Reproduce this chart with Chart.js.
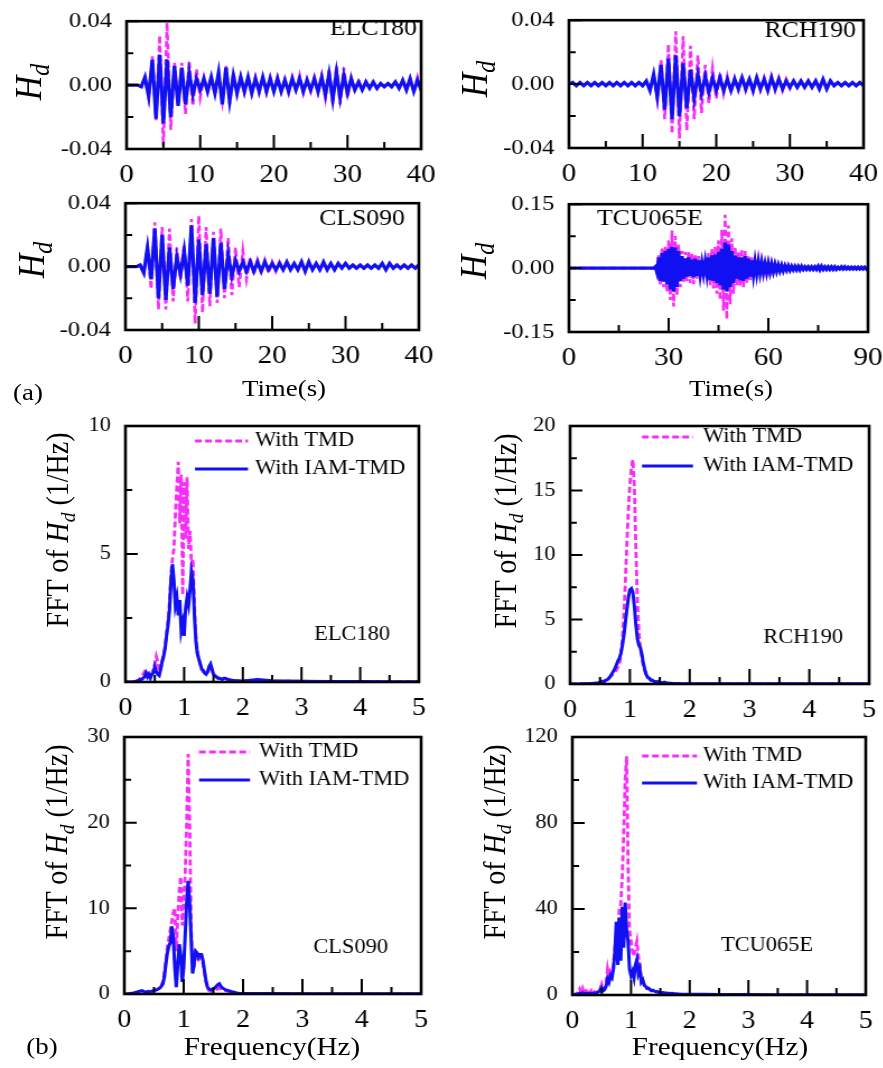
<!DOCTYPE html>
<html>
<head>
<meta charset="utf-8">
<script src="https://cdn.jsdelivr.net/npm/chart.js@4.4.1/dist/chart.umd.min.js"></script>
<style>
  body { margin: 0; background: #fff; width: 883px; height: 1068px; overflow: hidden; }
  #fig { position: absolute; left: 0; top: 0; width: 789px; height: 1068px; transform: scaleX(1.12); transform-origin: 0 0; }
  .lbl { position: absolute; white-space: nowrap; font-family: "Liberation Serif", "Times New Roman", serif; color: #000; line-height: 1; }
  .lbl sub { font-size: 0.7em; vertical-align: -0.3em; }
</style>
</head>
<body>
<div id="fig"></div>
<script>
// Réplica da figura: respostas H_d no tempo (a) e espectros FFT (b)
const SX = 1.12;          // a figura original está esticada na horizontal
const FONT = '"Liberation Serif", "Times New Roman", serif';
const TMD_COLOR = '#f72ef7';
const IAM_COLOR = '#1010f0';

// grades de amostragem
const t40 = Array.from({ length: 81 }, (_, i) => i * 0.5);
const t90 = Array.from({ length: 181 }, (_, i) => i * 0.5);
const freqs = Array.from({ length: 81 }, (_, i) => i * 0.025).concat([2.25, 2.5, 3, 3.5, 4, 4.5, 5]);

// ticks
const time40Ticks = [0, 10, 20, 30, 40];
const time40Minor = [5, 15, 25, 35];
const time90Ticks = [0, 30, 60, 90];
const time90Minor = [15, 45, 75];
const hdTicks = [-0.04, 0, 0.04];
const hdMinor = [-0.02, 0.02];
const tcuHdTicks = [-0.15, 0, 0.15];
const tcuHdMinor = [-0.075, 0.075];
const freqTicks = [0, 1, 2, 3, 4, 5];
const freqMinor = [0.5, 1.5, 2.5, 3.5, 4.5];
const elcFftTicks = [0, 5, 10];
const elcFftMinor = [2.5, 7.5];
const rchFftTicks = [0, 5, 10, 15, 20];
const rchFftMinor = [2.5, 7.5, 12.5, 17.5];
const clsFftTicks = [0, 10, 20, 30];
const clsFftMinor = [5, 15, 25];
const tcuFftTicks = [0, 40, 80, 120];
const tcuFftMinor = [20, 60, 100];

// (a) respostas no tempo, passo 0.5 s
const elcIam = [
  0, 0, 0, 0, -0.001, 0.005, -0.007, 0.016, -0.021, 0.019,
  -0.024, 0.016, -0.020, 0.012, -0.013, 0.011, -0.012, 0.008, -0.006, 0.004,
  -0.003, 0.004, -0.004, 0.005, -0.005, 0.008, -0.012, 0.011, -0.010, 0.006,
  -0.005, 0.005, -0.004, 0.005, -0.005, 0.004, -0.004, 0.005, -0.004, 0.004,
  -0.004, 0.004, -0.004, 0.003, -0.004, 0.004, -0.003, 0.004, -0.004, 0.003,
  -0.003, 0.004, -0.004, 0.005, -0.006, 0.007, -0.009, 0.008, -0.008, 0.006,
  -0.005, 0.004, -0.003, 0.002, -0.003, 0.002, -0.002, 0.002, -0.002, 0.001,
  -0.001, 0.001, -0.001, 0.002, -0.002, 0.003, -0.003, 0.004, -0.004, 0.003,
  -0.003
];
const elcTmd = [
  0, 0, 0, 0, -0.001, 0.004, -0.008, 0.018, -0.022, 0.031,
  -0.038, 0.039, -0.028, 0.014, -0.012, 0.014, -0.018, 0.015, -0.013, 0.010,
  -0.008, 0.005, -0.004, 0.005, -0.006, 0.007, -0.010, 0.012, -0.012, 0.008,
  -0.006, 0.005, -0.005, 0.004, -0.005, 0.005, -0.005, 0.004, -0.005, 0.005,
  -0.004, 0.005, -0.004, 0.004, -0.005, 0.005, -0.004, 0.006, -0.005, 0.004,
  -0.004, 0.005, -0.005, 0.006, -0.008, 0.010, -0.012, 0.012, -0.012, 0.011,
  -0.008, 0.005, -0.004, 0.003, -0.003, 0.002, -0.002, 0.002, -0.002, 0.001,
  -0.001, 0.001, -0.001, 0.002, -0.002, 0.003, -0.003, 0.004, -0.004, 0.005,
  -0.004
];
const rchIam = [
  0, 0.001, -0.001, 0.001, -0.001, 0.001, -0.001, 0.001, -0.001, 0.001,
  -0.001, 0.001, -0.001, 0.001, -0.001, 0.001, -0.001, 0.001, -0.001, 0.001,
  -0.001, 0.002, -0.004, 0.006, -0.008, 0.012, -0.016, 0.016, -0.022, 0.018,
  -0.020, 0.013, -0.015, 0.009, -0.009, 0.006, -0.006, 0.005, -0.005, 0.004,
  -0.004, 0.004, -0.004, 0.003, -0.004, 0.003, -0.003, 0.004, -0.003, 0.003,
  -0.004, 0.004, -0.003, 0.003, -0.004, 0.004, -0.003, 0.003, -0.003, 0.002,
  -0.002, 0.002, -0.002, 0.002, -0.002, 0.002, -0.002, 0.002, -0.003, 0.003,
  -0.003, 0.002, -0.001, 0.001, -0.001, 0.001, -0.001, 0.001, -0.001, 0.001,
  -0.001
];
const rchTmd = [
  0, 0.001, -0.001, 0.001, -0.001, 0.001, -0.001, 0.001, -0.001, 0.001,
  -0.001, 0.001, -0.001, 0.001, -0.001, 0.001, -0.001, 0.001, -0.001, 0.001,
  -0.001, 0.002, -0.004, 0.006, -0.010, 0.015, -0.022, 0.025, -0.031, 0.033,
  -0.034, 0.030, -0.029, 0.024, -0.022, 0.018, -0.018, 0.012, -0.012, 0.010,
  -0.009, 0.007, -0.006, 0.005, -0.005, 0.004, -0.004, 0.005, -0.004, 0.004,
  -0.005, 0.004, -0.004, 0.004, -0.005, 0.005, -0.004, 0.004, -0.004, 0.003,
  -0.003, 0.002, -0.002, 0.002, -0.002, 0.002, -0.002, 0.002, -0.003, 0.003,
  -0.003, 0.002, -0.001, 0.001, -0.001, 0.001, -0.001, 0.001, -0.001, 0.001,
  -0.001
];
const clsIam = [
  0, 0, 0, 0, 0.001, -0.004, 0.012, -0.008, 0.024, -0.020,
  0.020, -0.021, 0.012, -0.014, 0.006, -0.005, 0.010, -0.012, 0.026, -0.023,
  0.017, -0.018, 0.014, -0.017, 0.018, -0.019, 0.015, -0.014, 0.008, -0.006,
  0.004, -0.003, 0.003, -0.003, 0.003, -0.003, 0.003, -0.003, 0.003, -0.002,
  0.002, -0.002, 0.002, -0.002, 0.003, -0.002, 0.002, -0.002, 0.003, -0.003,
  0.003, -0.002, 0.002, -0.002, 0.003, -0.002, 0.002, -0.002, 0.002, -0.001,
  0.002, -0.001, 0.001, -0.001, 0.001, -0.001, 0.001, -0.001, 0.001, -0.001,
  0.002, -0.002, 0.002, -0.001, 0.001, -0.001, 0.001, -0.001, 0.001, -0.001,
  0.001
];
const clsTmd = [
  0, 0, 0, 0, 0.001, -0.004, 0.012, -0.014, 0.028, -0.027,
  0.025, -0.027, 0.024, -0.022, 0.012, -0.008, 0.014, -0.022, 0.030, -0.036,
  0.032, -0.029, 0.025, -0.025, 0.022, -0.023, 0.024, -0.020, 0.018, -0.018,
  0.012, -0.013, 0.010, -0.008, 0.006, -0.005, 0.004, -0.004, 0.004, -0.004,
  0.003, -0.003, 0.003, -0.002, 0.002, -0.002, 0.002, -0.002, 0.003, -0.003,
  0.003, -0.002, 0.002, -0.002, 0.002, -0.002, 0.002, -0.002, 0.002, -0.001,
  0.002, -0.001, 0.001, -0.001, 0.001, -0.001, 0.001, -0.001, 0.001, -0.001,
  0.002, -0.002, 0.002, -0.001, 0.001, -0.001, 0.001, -0.001, 0.001, -0.001,
  0.001
];
const tcuIam = [
  0, 0, 0, 0, 0, 0, 0, 0, 0, 0,
  0, 0, 0, 0, 0, 0, 0, 0, 0, 0,
  0, 0, 0, 0, 0, 0, 0, 0, 0, 0,
  0, 0, 0, 0, 0, 0, 0, 0, 0, 0,
  0, 0, 0, 0, 0, 0, 0, 0, 0, 0,
  0, 0, 0.003, -0.010, 0.025, -0.030, 0.035, -0.032, 0.040, -0.038,
  0.045, -0.050, 0.050, -0.055, 0.048, -0.045, 0.040, -0.030, 0.028, -0.025,
  0.022, -0.020, 0.025, -0.018, 0.020, -0.022, 0.022, -0.018, 0.018, -0.016,
  0.012, -0.012, 0.015, -0.014, 0.025, -0.028, 0.030, -0.030, 0.032, -0.035,
  0.038, -0.040, 0.045, -0.050, 0.060, -0.055, 0.055, -0.045, 0.040, -0.035,
  0.030, -0.025, 0.025, -0.028, 0.025, -0.030, 0.028, -0.025, 0.022, -0.020,
  0.018, -0.016, 0.015, -0.012, 0.013, -0.012, 0.012, -0.010, 0.010, -0.010,
  0.010, -0.009, 0.009, -0.008, 0.008, -0.007, 0.007, -0.006, 0.006, -0.006,
  0.005, -0.005, 0.005, -0.005, 0.004, -0.004, 0.004, -0.004, 0.004, -0.004,
  0.004, -0.003, 0.003, -0.003, 0.003, -0.003, 0.003, -0.003, 0.003, -0.003,
  0.004, -0.004, 0.004, -0.003, 0.003, -0.003, 0.003, -0.003, 0.003, -0.003,
  0.003, -0.003, 0.002, -0.002, 0.003, -0.002, 0.003, -0.002, 0.002, -0.002,
  0.002, -0.002, 0.002, -0.002, 0.002, -0.002, 0.002, -0.002, 0.002, -0.002,
  0.002
];
const tcuTmd = [
  0, 0, 0, 0, 0, 0, 0, 0, 0, 0,
  0, 0, 0, 0, 0, 0, 0, 0, 0, 0,
  0, 0, 0, 0, 0, 0, 0, 0, 0, 0,
  0, 0, 0, 0, 0, 0, 0, 0, 0, 0,
  0, 0, 0, 0, 0, 0, 0, 0, 0, 0,
  0, 0, 0.004, -0.012, 0.030, -0.040, 0.048, -0.045, 0.052, -0.055,
  0.065, -0.075, 0.088, -0.090, 0.075, -0.065, 0.055, -0.045, 0.040, -0.035,
  0.038, -0.030, 0.040, -0.035, 0.035, -0.038, 0.030, -0.025, 0.028, -0.022,
  0.015, -0.015, 0.020, -0.022, 0.035, -0.040, 0.045, -0.048, 0.050, -0.060,
  0.065, -0.075, 0.090, -0.100, 0.125, -0.120, 0.100, -0.085, 0.070, -0.060,
  0.050, -0.040, 0.040, -0.042, 0.045, -0.045, 0.040, -0.035, 0.030, -0.028,
  0.025, -0.020, 0.018, -0.016, 0.018, -0.015, 0.015, -0.013, 0.014, -0.012,
  0.012, -0.011, 0.010, -0.009, 0.009, -0.008, 0.008, -0.007, 0.007, -0.006,
  0.006, -0.005, 0.005, -0.005, 0.005, -0.004, 0.004, -0.004, 0.004, -0.004,
  0.004, -0.003, 0.003, -0.003, 0.003, -0.003, 0.003, -0.003, 0.003, -0.003,
  0.004, -0.004, 0.004, -0.003, 0.003, -0.003, 0.003, -0.003, 0.003, -0.003,
  0.003, -0.003, 0.002, -0.002, 0.003, -0.002, 0.003, -0.002, 0.002, -0.002,
  0.002, -0.002, 0.002, -0.002, 0.002, -0.002, 0.002, -0.002, 0.002, -0.002,
  0.002
];

// (b) espectros, 0 a 2 Hz em passos de 0.025 + cauda até 5 Hz
const elcFftIam = [
  0, 0, 0, 0, 0, 0, 0.02, 0.02,
  0.05, 0.05, 0.1, 0.1, 0.15, 0.2, 0.35, 0.2,
  0.3, 0.15, 0.3, 0.35, 0.6, 0.4, 0.3, 0.25,
  0.5, 0.8, 1.0, 1.3, 1.8, 2.2, 2.8, 3.9,
  4.6, 4.0, 3.0, 3.3, 2.6, 3.2, 2.0, 2.3,
  1.8, 2.9, 3.3, 3.0, 3.6, 4.3, 4.0, 2.6,
  1.6, 1.1, 0.9, 0.7, 0.5, 0.45, 0.35, 0.3,
  0.4, 0.6, 0.7, 0.5, 0.3, 0.25, 0.2, 0.15,
  0.15, 0.12, 0.1, 0.15, 0.15, 0.12, 0.1, 0.08,
  0.08, 0.06, 0.06, 0.05, 0.05, 0.05, 0.04, 0.04,
  0.04,
  0.1, 0.05, 0.03, 0.02, 0.02, 0.01, 0.01
];
const elcFftTmd = [
  0, 0, 0, 0, 0, 0, 0.02, 0.03,
  0.05, 0.08, 0.15, 0.2, 0.3, 0.4, 0.5, 0.3,
  0.25, 0.2, 0.3, 0.5, 0.7, 1.0, 0.8, 0.4,
  0.5, 0.8, 1.1, 1.4, 1.9, 2.4, 3.1, 4.2,
  4.8, 5.2, 6.5, 7.6, 8.6, 6.2, 8.1, 3.4,
  7.8, 5.6, 8.0, 5.2, 5.9, 4.6, 4.8, 3.0,
  1.8, 1.2, 0.9, 0.7, 0.5, 0.4, 0.35, 0.3,
  0.35, 0.55, 0.6, 0.45, 0.3, 0.25, 0.2, 0.15,
  0.15, 0.12, 0.1, 0.12, 0.12, 0.1, 0.08, 0.08,
  0.06, 0.05, 0.05, 0.05, 0.04, 0.04, 0.04, 0.03,
  0.03,
  0.08, 0.04, 0.03, 0.02, 0.01, 0.01, 0.01
];
const rchFftIam = [
  0, 0, 0, 0, 0, 0, 0, 0.01,
  0.01, 0.01, 0.02, 0.02, 0.02, 0.03, 0.03, 0.04,
  0.05, 0.05, 0.08, 0.1, 0.15, 0.2, 0.15, 0.2,
  0.3, 0.35, 0.45, 0.6, 0.8, 1.0, 1.2, 1.5,
  1.8, 2.0, 2.4, 3.0, 3.8, 4.8, 5.8, 6.7,
  7.3, 7.4, 7.1, 6.0, 4.6, 3.5, 3.0, 2.8,
  2.3, 1.6, 1.1, 0.7, 0.5, 0.45, 0.3, 0.3,
  0.2, 0.2, 0.15, 0.2, 0.15, 0.1, 0.1, 0.15,
  0.1, 0.08, 0.06, 0.05, 0.05, 0.04, 0.04, 0.03,
  0.03, 0.03, 0.02, 0.02, 0.02, 0.02, 0.02, 0.02,
  0.02,
  0.02, 0.01, 0.01, 0.01, 0.01, 0.01, 0.01
];
const rchFftTmd = [
  0, 0, 0, 0, 0, 0, 0, 0.01,
  0.01, 0.01, 0.02, 0.02, 0.02, 0.03, 0.03, 0.04,
  0.05, 0.06, 0.1, 0.12, 0.18, 0.25, 0.2, 0.25,
  0.35, 0.4, 0.5, 0.6, 0.7, 0.8, 0.9, 1.1,
  1.3, 1.6, 2.2, 3.5, 5.5, 8.0, 11.0, 13.5,
  15.5, 16.8, 17.4, 15.2, 10.5, 6.5, 4.0, 2.8,
  2.0, 1.4, 1.0, 0.7, 0.5, 0.4, 0.3, 0.3,
  0.2, 0.2, 0.15, 0.15, 0.12, 0.1, 0.1, 0.1,
  0.08, 0.06, 0.05, 0.05, 0.04, 0.04, 0.03, 0.03,
  0.03, 0.02, 0.02, 0.02, 0.02, 0.02, 0.02, 0.02,
  0.02,
  0.01, 0.01, 0.01, 0.01, 0.01, 0.01, 0.01
];
const clsFftIam = [
  0, 0, 0, 0.02, 0.05, 0.08, 0.1, 0.15,
  0.2, 0.25, 0.3, 0.35, 0.4, 0.3, 0.2, 0.25,
  0.3, 0.25, 0.3, 0.35, 0.4, 0.45, 0.5, 0.6,
  0.7, 0.9, 1.2, 2.0, 3.5, 4.8, 5.6, 6.0,
  7.9, 6.6, 3.1, 0.8, 3.5, 5.8, 4.6, 1.4,
  3.1, 6.9, 10.7, 13.2, 10.7, 6.6, 2.4, 3.5,
  5.0, 4.8, 4.3, 4.6, 4.6, 3.9, 2.7, 1.6,
  0.8, 0.6, 0.5, 0.5, 0.6, 0.7, 0.9, 1.1,
  1.2, 0.9, 0.7, 0.6, 0.5, 0.45, 0.4, 0.35,
  0.3, 0.25, 0.2, 0.15, 0.1, 0.08, 0.06, 0.05,
  0.05,
  0.05, 0.05, 0.04, 0.03, 0.02, 0.02, 0.02
];
const clsFftTmd = [
  0, 0, 0, 0.02, 0.05, 0.08, 0.1, 0.15,
  0.2, 0.25, 0.3, 0.35, 0.4, 0.3, 0.2, 0.25,
  0.3, 0.25, 0.3, 0.35, 0.4, 0.45, 0.5, 0.6,
  0.7, 1.0, 1.5, 2.5, 4.0, 5.5, 6.5, 7.5,
  8.5, 9.5, 10.0, 5.0, 9.0, 12.0, 13.7, 8.0,
  11.0, 14.0, 20.0, 28.0, 20.0, 8.0, 3.0, 3.2,
  4.5, 4.4, 4.0, 4.2, 4.2, 3.5, 2.4, 1.4,
  0.7, 0.4, 0.3, 0.3, 0.35, 0.4, 0.5, 0.6,
  0.7, 0.6, 0.5, 0.45, 0.4, 0.35, 0.3, 0.25,
  0.2, 0.15, 0.12, 0.1, 0.08, 0.06, 0.05, 0.05,
  0.05,
  0.05, 0.04, 0.03, 0.02, 0.02, 0.02, 0.02
];
const tcuFftIam = [
  0, 0, 0.2, 0.3, 0.5, 0.8, 0.5, 1.0,
  0.6, 0.8, 0.5, 0.7, 0.6, 0.8, 0.5, 0.9,
  0.8, 1.2, 1.5, 2.5, 3.5, 2.0, 2.5, 4.0,
  7.5, 6.0, 9.0, 8.0, 12.0, 20.0, 34.0, 14.0,
  36.0, 16.0, 41.0, 22.0, 43.0, 30.0, 25.0, 12.0,
  9.0, 11.0, 8.0, 14.0, 16.5, 10.0, 12.0, 6.0,
  7.0, 4.5, 4.0, 3.0, 3.2, 2.5, 2.0, 2.2,
  1.8, 1.5, 1.6, 1.2, 1.3, 1.0, 1.1, 0.9,
  0.9, 0.8, 0.8, 0.7, 0.8, 0.6, 0.6, 0.5,
  0.5, 0.4, 0.4, 0.4, 0.3, 0.3, 0.3, 0.3,
  0.3,
  0.3, 0.25, 0.2, 0.15, 0.1, 0.1, 0.1
];
const tcuFftTmd = [
  0, 0, 0.5, 0.8, 1.5, 2.8, 1.0, 3.0,
  1.0, 2.8, 0.8, 2.5, 0.8, 2.0, 0.8, 1.5,
  1.0, 1.5, 2.0, 3.0, 5.0, 2.5, 3.0, 6.0,
  12.0, 8.0, 11.0, 10.0, 14.0, 22.0, 30.0, 28.0,
  40.0, 42.0, 55.0, 75.0, 100.0, 111.0, 60.0, 30.0,
  25.0, 20.0, 18.0, 22.0, 25.0, 18.0, 14.0, 8.0,
  7.0, 5.0, 4.0, 3.0, 3.0, 2.5, 2.0, 2.0,
  1.6, 1.4, 1.4, 1.1, 1.2, 0.9, 1.0, 0.8,
  0.8, 0.7, 0.7, 0.6, 0.7, 0.5, 0.5, 0.5,
  0.4, 0.4, 0.4, 0.3, 0.3, 0.3, 0.3, 0.3,
  0.3,
  0.3, 0.25, 0.2, 0.15, 0.1, 0.1, 0.1
];

// Painéis (posições em pixels da figura original)
const panels = [
  { box: [127, 15, 421, 149], xs: t40, tmd: elcTmd, iam: elcIam, xT: time40Ticks, xM: time40Minor, yT: hdTicks, yM: hdMinor, time: true, name: ['ELC180', 417, 29, 'right'] },
  { box: [569, 14, 864, 148], xs: t40, tmd: rchTmd, iam: rchIam, xT: time40Ticks, xM: time40Minor, yT: hdTicks, yM: hdMinor, time: true, name: ['RCH190', 856, 31, 'right'] },
  { box: [126, 197, 419, 330], xs: t40, tmd: clsTmd, iam: clsIam, xT: time40Ticks, xM: time40Minor, yT: hdTicks, yM: hdMinor, time: true, name: ['CLS090', 405, 219, 'right'] },
  { box: [569, 198, 868, 332], xs: t90, tmd: tcuTmd, iam: tcuIam, xT: time90Ticks, xM: time90Minor, yT: tcuHdTicks, yM: tcuHdMinor, time: true, name: ['TCU065E', 597, 219, 'left'] },
  { box: [125, 421, 419, 682], xs: freqs, tmd: elcFftTmd, iam: elcFftIam, xT: freqTicks, xM: freqMinor, yT: elcFftTicks, yM: elcFftMinor, time: false, name: ['ELC180', 390, 635, 'right'], legend: { x0: 195, x1: 248, tx: 255, ys: [441, 469] } },
  { box: [570, 421, 869, 684], xs: freqs, tmd: rchFftTmd, iam: rchFftIam, xT: freqTicks, xM: freqMinor, yT: rchFftTicks, yM: rchFftMinor, time: false, name: ['RCH190', 843, 638, 'right'], legend: { x0: 642, x1: 693, tx: 703, ys: [437, 466] } },
  { box: [124, 732, 421, 994], xs: freqs, tmd: clsFftTmd, iam: clsFftIam, xT: freqTicks, xM: freqMinor, yT: clsFftTicks, yM: clsFftMinor, time: false, name: ['CLS090', 388, 948, 'right'], legend: { x0: 199, x1: 250, tx: 259, ys: [752, 780] } },
  { box: [572, 732, 866, 995], xs: freqs, tmd: tcuFftTmd, iam: tcuFftIam, xT: freqTicks, xM: freqMinor, yT: tcuFftTicks, yM: tcuFftMinor, time: false, name: ['TCU065E', 813, 946, 'right'], legend: { x0: 642, x1: 697, tx: 703, ys: [756, 783] } }
];

// Moldura, ticks internos, nome do registro e legenda
const deco = {
  id: 'deco',
  afterDatasetsDraw(chart, _args, o) {
    const { ctx, chartArea: a, scales: { x, y } } = chart;
    const [ox, oy] = o.origin;
    ctx.save();
    ctx.strokeStyle = '#000';
    ctx.lineWidth = 2;
    ctx.beginPath();
    o.xMajor.forEach(v => { const p = x.getPixelForValue(v); ctx.moveTo(p, a.bottom); ctx.lineTo(p, a.bottom - o.len[0]); });
    o.xMinor.forEach(v => { const p = x.getPixelForValue(v); ctx.moveTo(p, a.bottom); ctx.lineTo(p, a.bottom - o.len[1]); });
    o.yMajor.forEach(v => { const p = y.getPixelForValue(v); ctx.moveTo(a.left, p); ctx.lineTo(a.left + o.len[2], p); });
    o.yMinor.forEach(v => { const p = y.getPixelForValue(v); ctx.moveTo(a.left, p); ctx.lineTo(a.left + o.len[3], p); });
    ctx.stroke();
    ctx.lineWidth = 2.6;
    ctx.strokeRect(a.left, a.top, a.width, a.height);

    ctx.fillStyle = '#000';
    ctx.textBaseline = 'middle';
    ctx.font = o.nameSize + 'px ' + FONT;
    ctx.textAlign = o.name[3];
    ctx.fillText(o.name[0], o.name[1] / SX - ox, o.name[2] - oy);

    if (o.legend) {
      const lg = o.legend;
      ctx.font = '20px ' + FONT;
      ctx.textAlign = 'left';
      chart.data.datasets.forEach((ds, i) => {
        const yy = lg.ys[i] - oy;
        ctx.strokeStyle = ds.borderColor;
        ctx.lineWidth = 3;
        ctx.setLineDash(ds.borderDash || []);
        ctx.beginPath();
        ctx.moveTo(lg.x0 / SX - ox, yy);
        ctx.lineTo(lg.x1 / SX - ox, yy);
        ctx.stroke();
        ctx.setLineDash([]);
        ctx.fillText(ds.label, lg.tx / SX - ox, yy);
      });
    }
    ctx.restore();
  }
};

const fig = document.getElementById('fig');
const YW = 75, PT = 20, PR = 25, XH = 50;

function axis(ticks, size, pad, fmt, fit) {
  return {
    type: 'linear',
    min: ticks[0],
    max: ticks[ticks.length - 1],
    grid: { display: false, drawTicks: false },
    border: { display: false },
    afterBuildTicks: s => { s.ticks = ticks.map(v => ({ value: v })); },
    afterFit: fit,
    ticks: { font: { family: FONT, size }, color: '#000', padding: pad, maxRotation: 0, autoSkip: false, callback: fmt }
  };
}

panels.forEach(p => {
  const [L, T, R, B] = p.box;
  const left = Math.round(L / SX), right = Math.round(R / SX);
  const cl = left - YW, ct = T - PT;
  const cw = right - left + YW + PR, ch = B - T + PT + XH;
  const cv = document.createElement('canvas');
  cv.width = cw; cv.height = ch;
  cv.style.cssText = `position:absolute;left:${cl}px;top:${ct}px;width:${cw}px;height:${ch}px`;
  fig.appendChild(cv);

  const pts = vals => p.xs.map((t, i) => ({ x: t, y: vals[i] }));
  new Chart(cv, {
    type: 'line',
    data: {
      datasets: [
        { label: 'With TMD', data: pts(p.tmd), borderColor: TMD_COLOR, borderWidth: p.time ? 2.6 : 2.8, borderDash: [6, 3], pointRadius: 0, tension: 0, order: 1 },
        { label: 'With IAM-TMD', data: pts(p.iam), borderColor: IAM_COLOR, borderWidth: p.time ? 3.2 : 3, pointRadius: 0, tension: 0, order: 0 }
      ]
    },
    options: {
      responsive: false,
      animation: false,
      events: [],
      layout: { padding: { top: PT, right: PR, bottom: 0, left: 0 } },
      plugins: {
        legend: { display: false },
        tooltip: { enabled: false },
        deco: {
          origin: [cl, ct],
          xMajor: p.xT, xMinor: p.xM, yMajor: p.yT, yMinor: p.yM,
          len: p.time ? [14, 7, 11, 6] : [15, 7, 11, 6],
          name: p.name, nameSize: p.time ? 23 : 20,
          legend: p.legend || null
        }
      },
      scales: {
        x: axis(p.xT, p.time ? 26 : 25, 11, v => String(v), s => { s.height = XH; }),
        y: axis(p.yT, p.time ? 22 : 20, 13, v => p.time ? v.toFixed(2) : String(v), s => { s.width = YW; })
      }
    },
    plugins: [deco]
  });
});

// Títulos dos eixos e rótulos (a), (b)
const HD = '<i>H</i><sub><i>d</i></sub>';
function label(html, x, y, size, rot) {
  const d = document.createElement('div');
  d.className = 'lbl';
  d.innerHTML = html;
  d.style.left = (x / SX) + 'px';
  d.style.top = y + 'px';
  d.style.fontSize = size + 'px';
  d.style.transform = 'translate(-50%, -50%)' + (rot ? ' rotate(-90deg)' : '');
  fig.appendChild(d);
}
[[32, 82], [478, 79], [35, 260], [477, 261]].forEach(([x, y]) => label(HD, x, y, 34, true));
[[60, 530], [508, 531], [59, 842], [497, 842]].forEach(([x, y]) => label('FFT of ' + HD + ' (1/Hz)', x, y, 28, true));
label('Time(s)', 284, 388, 24);
label('Time(s)', 731, 388, 24);
label('Frequency(Hz)', 272, 1047, 26);
label('Frequency(Hz)', 720, 1047, 26);
label('(a)', 28, 392, 24);
label('(b)', 42, 1046, 24);
</script>
</body>
</html>
